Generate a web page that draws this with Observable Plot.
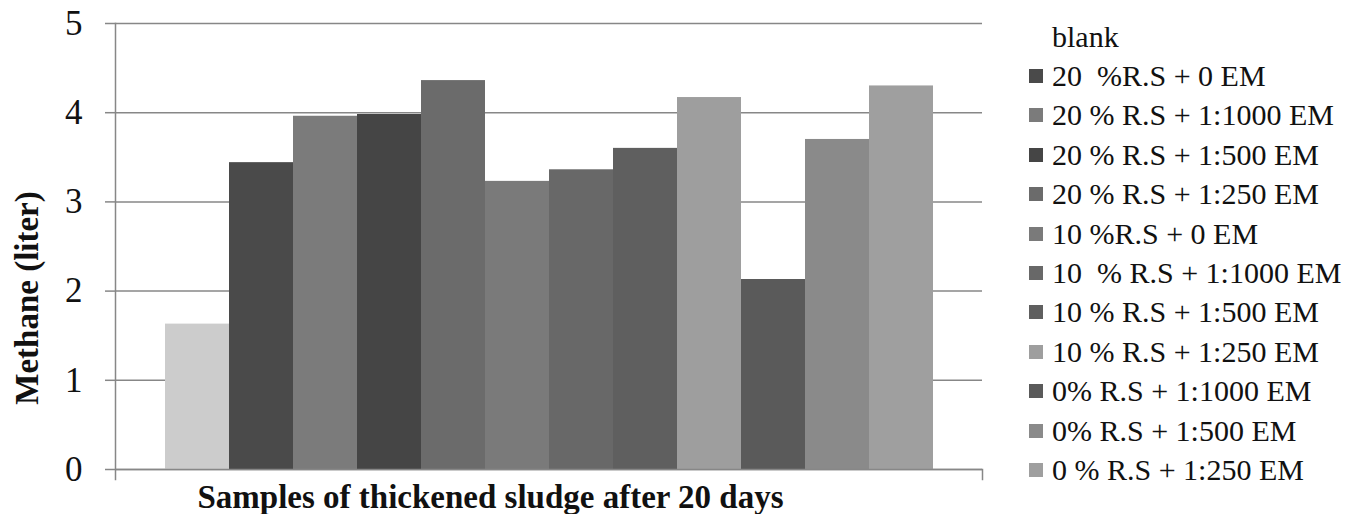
<!DOCTYPE html>
<html>
<head>
<meta charset="utf-8">
<script src="https://cdn.jsdelivr.net/npm/d3@7"></script>
<script src="https://cdn.jsdelivr.net/npm/@observablehq/plot@0.6"></script>
<style>
  html, body { margin: 0; padding: 0; background: #fff; }
  #wrap { position: relative; width: 1364px; height: 514px; overflow: hidden; font-family: "Liberation Serif", "Times New Roman", serif; }
  #legend { position: absolute; left: 1029px; top: 17px; font-size: 30px; color: #111; }
  #legend .row { display: flex; align-items: center; height: 39.4px; white-space: pre; }
  #legend .sw { width: 14px; height: 14px; margin-right: 9px; flex: none; }
</style>
</head>
<body>
<div id="wrap"><div id="chart"></div><div id="legend"></div></div>
<script>
const names = [
  "blank",
  "20  %R.S + 0 EM",
  "20 % R.S + 1:1000 EM",
  "20 % R.S + 1:500 EM",
  "20 % R.S + 1:250 EM",
  "10 %R.S + 0 EM",
  "10  % R.S + 1:1000 EM",
  "10 % R.S + 1:500 EM",
  "10 % R.S + 1:250 EM",
  "0% R.S + 1:1000 EM",
  "0% R.S + 1:500 EM",
  "0 % R.S + 1:250 EM"
];
const values = [1.63, 3.44, 3.96, 3.98, 4.36, 3.23, 3.36, 3.60, 4.17, 2.13, 3.70, 4.30];
const colors = ["#cccccc", "#4a4a4a", "#7b7b7b", "#454545", "#6b6b6b", "#7a7a7a",
                "#686868", "#5f5f5f", "#9e9e9e", "#5a5a5a", "#8a8a8a", "#9f9f9f"];
const yTicks = [0, 1, 2, 3, 4, 5];
const yTickLabels = ["0", "1", "2", "3", "4", "5"];
const yTitle = "Methane (liter)";
const xTitle = "Samples of thickened sludge after 20 days";

const gridColor = "#878787";
const W = 1000, H = 514, mL = 115, mR = 18, mT = 23, mB = 45;
const data = names.map((name, i) => ({name, value: values[i]}));

const chart = Plot.plot({
  width: W, height: H,
  marginLeft: mL, marginRight: mR, marginTop: mT, marginBottom: mB,
  style: {fontFamily: "'Liberation Serif', 'Times New Roman', serif", background: "white", color: "#111"},
  x: {domain: names, paddingInner: 0, paddingOuter: 0.75, axis: null},
  y: {domain: [0, 5], axis: null},
  color: {domain: names, range: colors},
  marks: [
    Plot.ruleY(yTicks, {stroke: gridColor, strokeWidth: 1.5}),
    Plot.axisY({ticks: yTicks, tickFormat: (d) => yTickLabels[yTicks.indexOf(d)], tickSize: 10, tickPadding: 23, fontSize: 35, stroke: gridColor, strokeWidth: 1.5, fill: "#111", label: null}),
    Plot.barY(data, {x: "name", y: "value", fill: "name"}),
    Plot.ruleY([0], {stroke: gridColor, strokeWidth: 1.5}),
    Plot.frame({anchor: "left", stroke: gridColor, strokeWidth: 1.5, insetBottom: -10}),
    Plot.frame({anchor: "right", stroke: gridColor, strokeWidth: 1.5, insetTop: H - mT - mB, insetBottom: -10}),
    Plot.text([yTitle], {frameAnchor: "left", textAnchor: "middle", lineAnchor: "middle", rotate: -90, dx: -88.5, dy: 51.5, fontSize: 33, fontWeight: "bold", fill: "#111"}),
    Plot.text([xTitle], {frameAnchor: "bottom", textAnchor: "middle", lineAnchor: "middle", dx: -58.5, dy: 28.4, fontSize: 33, fontWeight: "bold", fill: "#111"})
  ]
});
document.getElementById("chart").appendChild(chart);

const legend = d3.select("#legend");
names.forEach((name, i) => {
  const row = legend.append("div").attr("class", "row");
  row.append("div").attr("class", "sw").style("background", i === 0 ? "transparent" : colors[i]);
  row.append("span").text(name);
});
</script>
</body>
</html>
